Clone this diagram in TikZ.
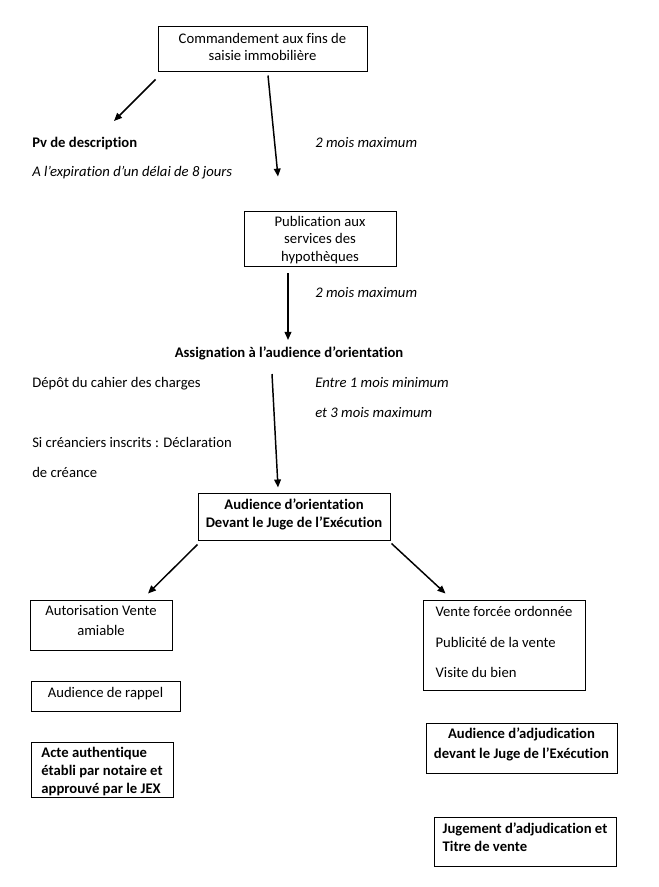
\documentclass[tikz,border=0pt]{standalone}
\usepackage{fontspec}
\setmainfont{Carlito}[Ligatures=NoCommon]
\usetikzlibrary{arrows.meta,calc}
\begin{document}
\begin{tikzpicture}[x=0.75pt,y=-0.75pt,
  box/.style={draw=black, line width=0.75pt, inner sep=0pt, font=\fontsize{11}{13}\selectfont},
  lbl/.style={inner sep=0pt, anchor=base west, font=\fontsize{11}{13}\selectfont},
  arr/.style={-{Triangle[length=6pt,width=5pt]}, line width=1.1pt}]
\useasboundingbox (0,0) rectangle (659,887);

% boxes
\node[box, minimum width=156.75pt, minimum height=33.75pt] (cmd) at (262.5,49.5)
  {\begin{tabular}{@{}c@{}}Commandement aux fins de\\saisie immobilière\\[1.5pt]\end{tabular}};
\node[box, minimum width=114pt, minimum height=40.5pt] (pub) at (320,239)
  {\begin{tabular}{@{}c@{}}\rule{0pt}{11.35pt}Publication aux\\[0.3pt]services des\\[0.3pt]hypothèques\end{tabular}};
\node[box, minimum width=144pt, minimum height=35.25pt, font=\fontsize{11}{13}\selectfont\bfseries] (aud) at (294,516.5)
  {\begin{tabular}{@{}c@{}}Audience d’orientation\\[0.5pt]Devant le Juge de l’Exécution\\[2.25pt]\end{tabular}};
\node[box, minimum width=106.5pt, minimum height=37.5pt] (auto) at (101,625)
  {\begin{tabular}{@{}c@{}}Autorisation Vente\\[2pt]amiable\\[4.5pt]\end{tabular}};
\node[box, minimum width=121.5pt, minimum height=67.5pt] (vente) at (504,645)
  {\begin{tabular}{@{}l@{}}Vente forcée ordonnée\\[10pt]Publicité de la vente\\[10pt]Visite du bien\\[2pt]\end{tabular}};
\node[box, minimum width=111.75pt, minimum height=22.5pt] (rappel) at (105.5,696)
  {\begin{tabular}{@{}c@{}}Audience de rappel\\[3pt]\end{tabular}};
\node[box, minimum width=106.5pt, minimum height=41.25pt, font=\fontsize{11}{13}\selectfont\bfseries] (acte) at (102,769.5)
  {\begin{tabular}{@{}l@{}}\rule{0pt}{11.8pt}Acte authentique\\[0.5pt]établi par notaire et\\[0.5pt]approuvé par le JEX\\[-1.5pt]\end{tabular}};
\node[box, minimum width=143.25pt, minimum height=37.5pt, font=\fontsize{11}{13}\selectfont\bfseries] (adj) at (521.5,748)
  {\begin{tabular}{@{}c@{}}Audience d’adjudication\\[2pt]devant le Juge de l’Exécution\\[4.5pt]\end{tabular}};
\node[box, minimum width=136.5pt, minimum height=36.75pt, font=\fontsize{11}{13}\selectfont\bfseries] (jug) at (525,841.5)
  {\begin{tabular}{@{}l@{}}Jugement d’adjudication et\\[0.5pt]Titre de vente\\[3.75pt]\end{tabular}};

% free texts
\node[lbl, font=\fontsize{11}{13}\selectfont\bfseries] (pv) at (32,147.5) {Pv de description};
\node[lbl, font=\fontsize{11}{13}\selectfont\itshape] (expir) at (32,177) {A l’expiration d’un délai de 8 jours};
\node[lbl, font=\fontsize{11}{13}\selectfont\itshape] (deuxa) at (315,147.5) {2 mois maximum};
\node[lbl, font=\fontsize{11}{13}\selectfont\itshape] (deuxb) at (315,297.5) {2 mois maximum};
\node[lbl, anchor=base, font=\fontsize{11}{13}\selectfont\bfseries] (assign) at (289,357) {Assignation à l’audience d’orientation};
\node[lbl] (depot) at (32,387) {Dépôt du cahier des charges};
\node[lbl, font=\fontsize{11}{13}\selectfont\itshape] (entre) at (315,387) {Entre 1 mois minimum};
\node[lbl, font=\fontsize{11}{13}\selectfont\itshape] (etrois) at (315,417) {et 3 mois maximum};
\node[lbl] (si) at (32,447) {Si créanciers inscrits : Déclaration};
\node[lbl] (decl) at (32,477) {de créance};

% arrows
\draw[arr] ($(cmd.south west)+(-2,7)$) -- ($(pv.base west)+(82,-26.5)$);
\draw[arr] ($(cmd.south)+(5.5,3)$) -- ($(pub.north)+(-42,-34)$);
\draw[arr] ($(pub.south)+(-32,6)$) -- ($(assign.base)+(-1,-17)$);
\draw[arr] ($(assign.base)+(-17,17)$) -- ($(aud.north)+(-16,-5)$);
\draw[arr] ($(aud.south west)+(0,4)$) -- ($(auto.north)+(47,-6)$);
\draw[arr] ($(aud.south east)+(1,3)$) -- ($(vente.north west)+(23,-6)$);
\end{tikzpicture}
\end{document}
